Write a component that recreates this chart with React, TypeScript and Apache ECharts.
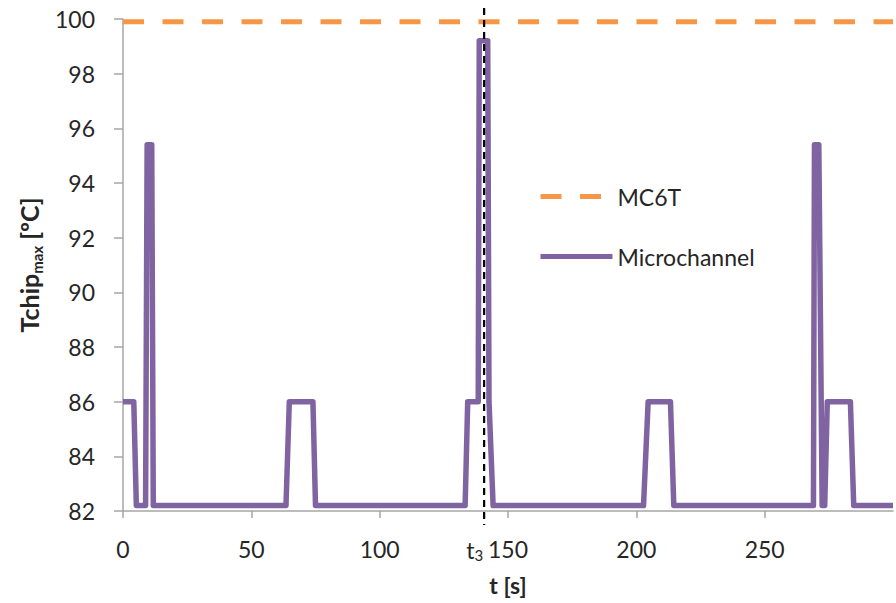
import React, { useEffect, useRef } from "react";
import * as echarts from "echarts";

const X_MIN = 0;
const X_MAX = 300;
const X_STEP = 50;
const Y_MIN = 82;
const Y_MAX = 100;
const Y_STEP = 2;
const MC6T_VALUE = 99.9;
const T3 = 140.7;

const MICRO_T = [
  0, 4.2, 5.2, 8.8, 9.4, 11.2, 11.8,
  63.5, 64.8, 74.0, 75.0,
  133.3, 134.3, 138.4, 138.8, 142.1, 142.6, 144.2,
  202.8, 204.6, 213.3, 214.6,
  269.0, 269.4, 271.1, 272.4, 273.4, 274.4, 283.4, 284.7, 300,
];
const MICRO_V = [
  86, 86, 82.2, 82.2, 95.4, 95.4, 82.2,
  82.2, 86, 86, 82.2,
  82.2, 86, 86, 99.2, 99.2, 86, 82.2,
  82.2, 86, 86, 82.2,
  82.2, 95.4, 95.4, 82.2, 82.2, 86, 86, 82.2, 82.2,
];
const MC6T_T = [0, 300];

const FONT = "Lato";
const PURPLE = "#8064A2";
const ORANGE = "#F79646";
const AXIS_GRAY = "#A6A6A6";
const TEXT = "#262626";

export default function App() {
  const ref = useRef<HTMLDivElement>(null);

  useEffect(() => {
    const chart = echarts.init(ref.current!, null, { renderer: "svg" });
    const option: any = {
      animation: false,
      backgroundColor: "#ffffff",
      grid: { left: 123, top: 19, right: 3, bottom: 92, containLabel: false },
      legend: {
        orient: "vertical",
        left: 533,
        top: 180,
        itemWidth: 72,
        itemHeight: 20,
        itemGap: 37,
        data: ["MC6T", "Microchannel"],
        itemStyle: { opacity: 0 },
        lineStyle: { width: 5, type: "inherit", color: "inherit" },
        textStyle: { fontSize: 23, fontFamily: FONT, color: TEXT, lineHeight: 20 },
      },
      xAxis: {
        type: "value",
        min: X_MIN,
        max: X_MAX,
        interval: X_STEP,
        name: "t [s]",
        nameLocation: "middle",
        nameGap: 62,
        nameTextStyle: { fontSize: 23, fontWeight: "bold", fontFamily: FONT, color: TEXT },
        axisLine: { show: true, lineStyle: { color: AXIS_GRAY, width: 1.5 } },
        axisTick: { show: true, length: 7, lineStyle: { color: AXIS_GRAY, width: 1.5 } },
        splitLine: { show: false },
        axisLabel: {
          fontSize: 23,
          fontFamily: FONT,
          color: TEXT,
          margin: 26,
          showMaxLabel: false,
        },
      },
      yAxis: {
        type: "value",
        min: Y_MIN,
        max: Y_MAX,
        interval: Y_STEP,
        name: "{b|Tchip}{s|max}{b| [ºC]}",
        nameLocation: "middle",
        nameRotate: 90,
        nameGap: 49,
        nameTextStyle: {
          rich: {
            b: { fontSize: 25, fontWeight: "bold", fontFamily: FONT, color: TEXT, lineHeight: 30 },
            s: { fontSize: 15, fontWeight: "bold", fontFamily: FONT, color: TEXT, lineHeight: 17, verticalAlign: "bottom" },
          },
        },
        axisLine: { show: true, lineStyle: { color: AXIS_GRAY, width: 1.5 } },
        axisTick: { show: true, length: 9, lineStyle: { color: AXIS_GRAY, width: 1.5 } },
        splitLine: { show: false },
        axisLabel: { fontSize: 23, fontFamily: FONT, color: TEXT, margin: 28 },
      },
      series: [
        {
          name: "MC6T",
          type: "line",
          symbol: "none",
          data: MC6T_T.map((t) => [t, MC6T_VALUE]),
          lineStyle: { color: ORANGE, width: 5, type: [21, 18.5], cap: "butt" },
          itemStyle: { color: ORANGE },
          z: 2,
        },
        {
          name: "Microchannel",
          type: "line",
          symbol: "none",
          data: MICRO_T.map((t, i) => [t, MICRO_V[i]]),
          lineStyle: { color: PURPLE, width: 5.5, join: "round", cap: "butt" },
          itemStyle: { color: PURPLE },
          z: 3,
        },
      ],
    };
    chart.setOption(option);

    const px = chart.convertToPixel({ xAxisIndex: 0 }, T3) as number;
    const topPx = chart.convertToPixel({ yAxisIndex: 0 }, Y_MAX) as number;
    const botPx = chart.convertToPixel({ yAxisIndex: 0 }, Y_MIN) as number;

    chart.setOption({
      graphic: [
        {
          type: "line",
          z: 100,
          shape: { x1: px, y1: topPx - 11, x2: px, y2: botPx + 14 },
          style: { stroke: "#000", lineWidth: 2.2, lineDash: [7, 5] },
        },
        {
          type: "text",
          z: 100,
          x: px - 1,
          y: botPx + 27,
          style: {
            text: "{a|t}{b|3}",
            align: "right",
            verticalAlign: "top",
            rich: {
              a: { fontSize: 23, fontFamily: FONT, fill: TEXT, lineHeight: 24 },
              b: { fontSize: 15, fontFamily: FONT, fill: TEXT, lineHeight: 14, verticalAlign: "bottom" },
            },
          },
        },
      ],
    });

    return () => chart.dispose();
  }, []);

  return (
    <div
      ref={ref}
      style={{ position: "fixed", left: 0, top: 0, width: 896, height: 603 }}
    />
  );
}
